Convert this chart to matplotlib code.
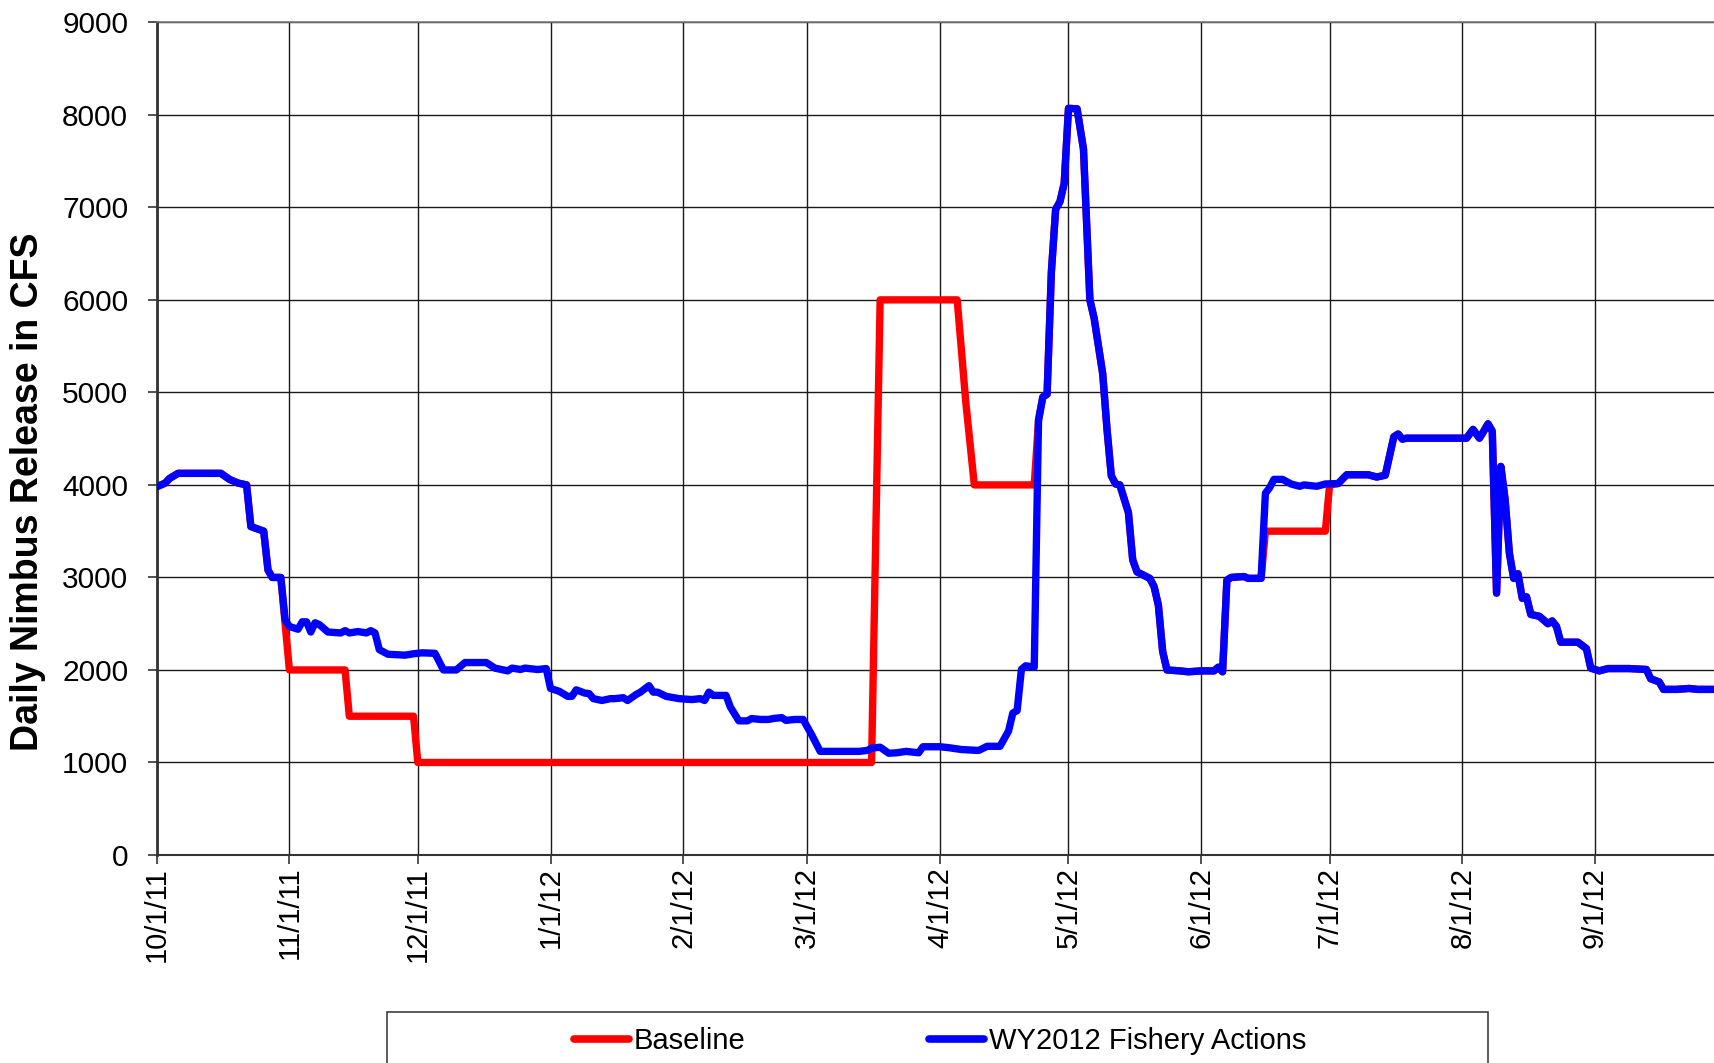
import matplotlib
matplotlib.use("Agg")
import matplotlib.pyplot as plt
import matplotlib.dates as mdates
from matplotlib.patches import Rectangle
from matplotlib.lines import Line2D
import pandas as pd
import numpy as np

plt.rcParams['font.family'] = ['Liberation Sans', 'DejaVu Sans']

# ---------------- data ----------------
start_date = "2011-10-01"

# WY2012 Fishery Actions: day offset from 10/1/11 and release (cfs)
fishery_days = [0, 2, 3, 5, 15, 17, 19, 21, 22, 25, 26, 27, 29, 30, 31, 33, 34, 35, 36, 37,
                38, 40, 43, 44, 45, 47, 49, 50, 51, 52, 54, 58, 60, 62, 65, 67, 70, 72, 77, 79,
                82, 83, 85, 86, 89, 91, 92, 94, 96, 97, 98, 100, 101, 102, 104, 106, 107, 109, 110, 112,
                113, 115, 116, 117, 119, 122, 125, 127, 128, 129, 130, 133, 134, 136, 138, 139, 141, 143, 144, 146,
                147, 149, 151, 153, 155, 160, 164, 166, 167, 169, 171, 173, 175, 178, 179, 183, 185, 188, 192, 194,
                197, 199, 200, 201, 202, 203, 205, 206, 207, 208, 209, 210, 211, 212, 213, 215, 216.5, 218, 219, 221,
                222, 223, 224, 225, 227, 228, 229, 232, 233, 234, 235, 236, 239, 241, 244, 247, 248, 249, 250, 251,
                254, 255, 258, 259, 260, 261, 263, 265, 267, 268, 271, 273, 276, 278, 283, 285, 287, 289, 290, 291,
                292, 306, 307.5, 309, 310, 311, 312, 313, 314, 315, 316, 317, 318, 319, 320, 321, 323, 325, 326, 327,
                328, 332, 334, 335, 337, 339, 344, 348, 349, 351, 352, 355, 358, 360, 365]
fishery_cfs = [3980, 4020, 4070, 4125, 4125, 4060, 4020, 4000, 3550, 3500, 3080, 3000, 3000, 2540, 2470, 2440, 2520, 2520, 2410, 2510,
               2490, 2410, 2400, 2425, 2400, 2415, 2400, 2425, 2400, 2220, 2170, 2160, 2175, 2185, 2180, 2000, 2000, 2080, 2080, 2020,
               1990, 2020, 2005, 2020, 2005, 2015, 1800, 1770, 1715, 1715, 1785, 1750, 1745, 1690, 1670, 1690, 1690, 1700, 1670, 1735,
               1760, 1830, 1760, 1760, 1715, 1690, 1680, 1690, 1670, 1760, 1725, 1725, 1600, 1450, 1450, 1475, 1465, 1465, 1475, 1485,
               1455, 1465, 1465, 1300, 1120, 1120, 1120, 1130, 1155, 1165, 1100, 1105, 1120, 1105, 1170, 1170, 1160, 1140, 1130, 1175,
               1175, 1340, 1535, 1560, 2006, 2045, 2030, 4700, 4950, 4980, 6300, 6980, 7060, 7260, 8070, 8065, 7630, 6000, 5800, 5200,
               4600, 4100, 4010, 4000, 3700, 3190, 3060, 2990, 2900, 2700, 2200, 2000, 1990, 1980, 1990, 1990, 2030, 1980, 2970, 3000,
               3010, 2990, 2990, 3910, 3970, 4060, 4060, 4010, 3985, 4000, 3985, 4010, 4015, 4110, 4110, 4085, 4105, 4520, 4550, 4495,
               4505, 4505, 4600, 4505, 4580, 4660, 4580, 2830, 4200, 3840, 3260, 2990, 3040, 2775, 2790, 2600, 2580, 2500, 2530, 2470,
               2300, 2300, 2230, 2020, 1990, 2015, 2015, 2005, 1905, 1870, 1790, 1790, 1800, 1790, 1790]

# Baseline: identical to the fishery series except in these two periods
baseline_seg1_days = [29, 30, 31, 44, 45, 60, 61, 167, 169, 187, 189, 191, 205]
baseline_seg1_cfs = [3000, 2500, 2000, 2000, 1500, 1500, 1000, 1000, 6000, 6000, 4900, 4000, 4000]
baseline_seg2_days = [258, 259, 273, 274]
baseline_seg2_cfs = [2990, 3500, 3500, 4000]

tick_dates = ["2011-10-01", "2011-11-01", "2011-12-01", "2012-01-01", "2012-02-01", "2012-03-01",
              "2012-04-01", "2012-05-01", "2012-06-01", "2012-07-01", "2012-08-01", "2012-09-01"]
tick_labels = ["10/1/11", "11/1/11", "12/1/11", "1/1/12", "2/1/12", "3/1/12",
               "4/1/12", "5/1/12", "6/1/12", "7/1/12", "8/1/12", "9/1/12"]
y_ticks = [0, 1000, 2000, 3000, 4000, 5000, 6000, 7000, 8000, 9000]

series_names = ["Baseline", "WY2012 Fishery Actions"]
series_colors = ["#ff0000", "#0000ff"]

# ---------------- build series ----------------
fd = np.array(fishery_days, dtype=float)
fv = np.array(fishery_cfs, dtype=float)
s1d = np.array(baseline_seg1_days, float)
s2d = np.array(baseline_seg2_days, float)
keep = ~(((fd >= s1d[0]) & (fd <= s1d[-1])) | ((fd >= s2d[0]) & (fd <= s2d[-1])))
bd = np.concatenate([fd[keep], s1d, s2d])
bv = np.concatenate([fv[keep], baseline_seg1_cfs, baseline_seg2_cfs])
order = np.argsort(bd, kind="stable")
bd, bv = bd[order], bv[order]

t0 = pd.Timestamp(start_date)
fx = [t0 + pd.Timedelta(days=d) for d in fd]
bx = [t0 + pd.Timedelta(days=d) for d in bd]

# ---------------- figure ----------------
W, H = 1714, 1063
fig = plt.figure(figsize=(W / 100, H / 100), dpi=100)
left_px, top_px, bottom_px = 156.7, 22.3, 855.0
right_px = left_px + 365 * 4.2807
ax = fig.add_axes([left_px / W, 1 - bottom_px / H, (right_px - left_px) / W, (bottom_px - top_px) / H])

ax.plot(bx, bv, color=series_colors[0], lw=5.3, solid_joinstyle="round", solid_capstyle="round", zorder=3)
ax.plot(fx, fv, color=series_colors[1], lw=5.3, solid_joinstyle="round", solid_capstyle="round", zorder=4)

ax.set_xlim(t0, pd.Timestamp("2012-09-30"))
ax.set_ylim(0, 9000)
ax.set_yticks(y_ticks)
ax.set_yticklabels([str(v) for v in y_ticks])
ax.set_xticks([pd.Timestamp(d) for d in tick_dates])
ax.set_xticklabels(tick_labels, rotation=90)

ax.grid(True, color="#1a1a1a", lw=1.0)
ax.set_axisbelow(True)
ax.spines["right"].set_visible(False)
ax.spines["top"].set_color("#7a7a7a")
ax.spines["top"].set_linewidth(1.2)
ax.spines["left"].set_color("#333333")
ax.spines["left"].set_linewidth(2.0)
ax.spines["bottom"].set_color("#333333")
ax.spines["bottom"].set_linewidth(1.5)

ax.tick_params(axis="y", direction="out", length=6.5, width=1.2, pad=14, labelsize=21.5, colors="#333333", labelcolor="black")
ax.tick_params(axis="x", direction="out", length=6.5, width=1.2, pad=2, labelsize=21, colors="#333333", labelcolor="black")

fig.text(28 / W, 1 - 492 / H, "Daily Nimbus Release in CFS", rotation=90, ha="center", va="center",
         fontsize=27, fontweight="bold")

# legend
handles = [Line2D([], [], color=c, lw=5.5, solid_capstyle="round") for c in series_colors]
fig.legend(handles, series_names, loc="center", bbox_to_anchor=(940 / W, 1 - 1041 / H), ncol=2,
           frameon=False, fontsize=21, handlelength=1.9, handletextpad=0.15, columnspacing=6.3,
           borderpad=0, borderaxespad=0)
fig.patches.append(Rectangle((387 / W, -0.02), 1101 / W, (1063 - 1012) / H + 0.02, transform=fig.transFigure,
                             fill=False, edgecolor="#404040", lw=1.2))

fig.savefig("out.png", dpi=100)
